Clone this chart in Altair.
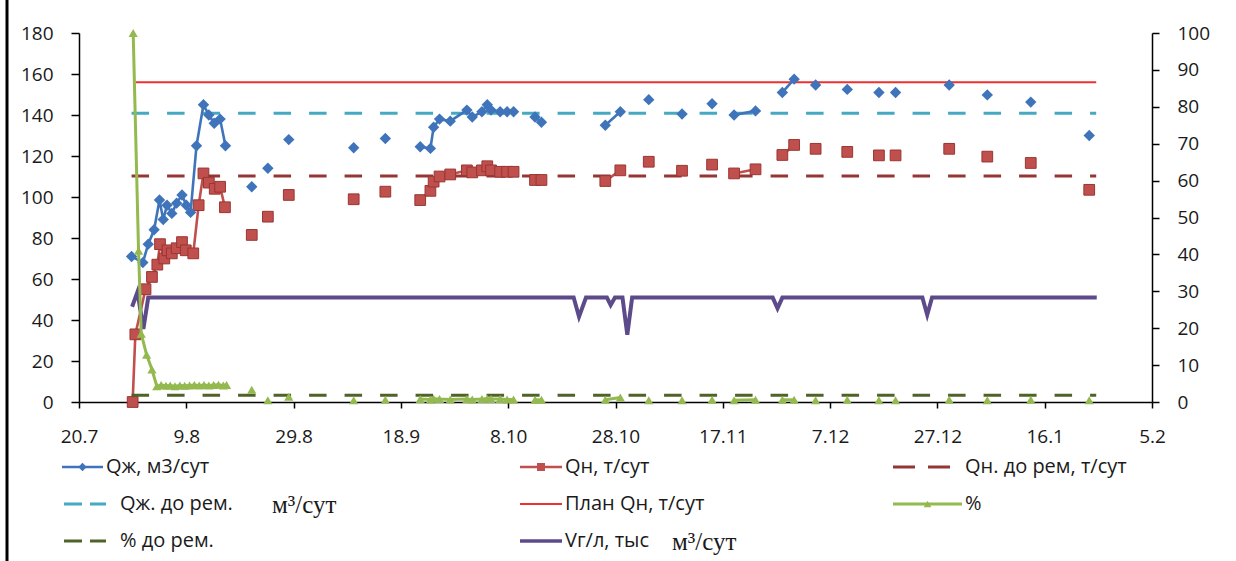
import json
import altair as alt
import pandas as pd

FONT = "Open Sans"
SERIF = "Liberation Serif"

# ---------------- axes ----------------
X_TICK_DAYS = [0, 20, 40, 60, 80, 100, 120, 140, 160, 180, 200]   # days since 20.7
X_TICK_LABELS = ["20.7", "9.8", "29.8", "18.9", "8.10", "28.10", "17.11", "7.12", "27.12", "16.1", "5.2"]
LEFT_TICKS = [0, 20, 40, 60, 80, 100, 120, 140, 160, 180]
RIGHT_TICKS = [0, 10, 20, 30, 40, 50, 60, 70, 80, 90, 100]

# ---------------- Qж, м3/сут (left axis) ----------------
ql_day = [9.8, 11.9, 12.9, 14.0, 15.0, 15.7, 16.4, 17.3, 18.2, 19.2, 20.0, 20.8, 21.9, 23.2, 24.2, 25.2, 26.3, 27.3,
          32.2, 35.2, 39.1, 51.2, 57.1,
          63.6, 65.5, 66.1, 67.2, 69.2, 72.3, 73.3, 75.1, 76.1, 76.8, 78.5, 79.8, 81.0,
          85.0, 86.2, 98.1, 100.9, 106.2, 112.4, 118.0, 122.1, 126.1, 131.1, 133.3, 137.3, 143.2,
          149.1, 152.2, 162.2, 169.3, 177.4, 188.3]
ql_val = [71, 68, 77, 84, 98.5, 89, 96, 92, 97, 101, 96, 92.5, 125, 145, 140, 136, 138, 125,
          105, 114, 128, 124, 128.5,
          124.5, 123.7, 134, 138, 137, 142.4, 139, 141.6, 145, 142.4, 141.6, 141.6, 141.6,
          139, 136.5, 135, 141.6, 147.5, 140.5, 145.5, 140, 142, 151, 157.5, 154.6, 152.5,
          151, 151, 154.6, 149.8, 146.3, 130]
ql_seg = [1] * 18 + [2, 3, 4, 5, 6] + [7] * 13 + [8, 8, 9, 9, 10, 11, 12, 13, 13, 14, 14, 15, 16,
                                                 17, 18, 19, 20, 21, 22]

# ---------------- Qн, т/сут (left axis) ----------------
qo_day = [10.0, 10.5, 12.4, 13.6, 14.6, 15.1, 15.9, 16.5, 17.3, 18.2, 19.2, 19.9, 21.3, 22.3, 23.2, 24.2, 25.3, 26.3, 27.2,
          32.2, 35.2, 39.1, 51.2, 57.1,
          63.6, 65.5, 66.1, 67.2, 69.2, 72.3, 73.3, 75.1, 76.1, 76.8, 78.5, 79.8, 81.0,
          85.0, 86.2, 98.1, 100.9, 106.2, 112.4, 118.0, 122.1, 126.1, 131.1, 133.3, 137.3, 143.2,
          149.1, 152.2, 162.2, 169.3, 177.4, 188.3]
qo_val = [0, 33, 55, 61, 67, 77, 70, 74, 72.5, 75, 78, 74, 72.5, 96, 111.5, 107, 104, 105, 95,
          81.5, 90.4, 101, 98.9, 102.6,
          98.5, 103, 107.5, 110, 111, 113, 112, 113, 115, 113, 112.3, 112.3, 112.3,
          108.3, 108.3, 107.8, 113, 117.2, 112.8, 115.8, 111.5, 113.5, 120.5, 125.4, 123.5, 122,
          120.3, 120.3, 123.5, 119.7, 116.6, 103.5]
qo_seg = [1] * 19 + [2, 3, 4, 5, 6] + [7] * 13 + [8, 8, 9, 9, 10, 11, 12, 13, 13, 14, 14, 15, 16,
                                                 17, 18, 19, 20, 21, 22]

# ---------------- % (right axis) ----------------
pc_day = [10.1, 11.1, 11.6, 12.6, 13.6, 14.5, 15.3, 16.2, 17.0, 17.9, 18.8, 19.7, 20.6, 21.5, 22.4, 23.3, 24.2, 25.1, 26.0, 26.9, 27.5,
          32.2, 35.2, 39.1, 51.2, 57.1,
          63.6, 65.5, 66.1, 67.2, 69.2, 72.3, 73.3, 75.1, 76.1, 76.8, 78.5, 79.8, 81.0,
          85.0, 86.2, 98.1, 100.9, 106.2, 112.4, 118.0, 122.1, 126.1, 131.1, 133.3, 137.3, 143.2,
          149.1, 152.2, 162.2, 169.3, 177.4, 188.3]
pc_val = [100, 41, 18.5, 12.8, 8.8, 4.3, 4.6, 4.4, 4.5, 4.3, 4.5, 4.4, 4.5, 4.6, 4.5, 4.6, 4.5, 4.6, 4.7, 4.5, 4.6,
          3.3, 0.5, 1.4, 0.5, 0.6,
          0.8, 0.7, 0.9, 0.8, 0.7, 0.8, 0.7, 0.8, 0.9, 0.8, 0.8, 0.7, 0.7,
          0.6, 0.6, 0.6, 1.2, 0.5, 0.5, 0.6, 0.5, 0.6, 0.6, 0.6, 0.5, 0.6,
          0.5, 0.5, 0.6, 0.5, 0.6, 0.5]
pc_seg = [1] * 21 + [2, 3, 4, 5, 6] + [7] * 13 + [8, 8, 9, 9, 10, 11, 12, 13, 13, 14, 14, 15, 16,
                                                 17, 18, 19, 20, 21, 22]

# ---------------- Vг/л, тыс м3/сут (right axis) ----------------
vg_day = [9.9, 10.9, 12.0, 12.9, 92.2, 93.2, 94.5, 98.4, 99.1, 99.9, 101.3, 102.2, 103.1,
          129.3, 130.2, 131.1, 157.2, 158.1, 159.0, 189.7]
vg_val = [25.8, 29.8, 19.8, 28.3, 28.3, 23.1, 28.3, 28.3, 26.3, 28.3, 28.3, 18.2, 28.3,
          28.3, 25.4, 28.3, 28.3, 23.6, 28.3, 28.3]

# ---------------- constant reference levels ----------------
plan_qn = 156.0          # План Qн, т/сут
qj_before = 140.8        # Qж. до рем.
qn_before = 110.3        # Qн. до рем
pct_before = 1.8         # % до рем. (right axis)
ref_start = [10.6, 9.8, 9.8, 9.8]
ref_end = [189.6, 189.6, 189.6, 189.6]

# ---------------- colours ----------------
C_BLUE = "#3f74bb"
C_RED = "#c0504d"
C_RED_EDGE = "#9a3532"
C_GREEN = "#93b94f"
C_PURPLE = "#5d4a8a"
C_TEAL = "#45a9c2"
C_DKRED = "#943634"
C_OLIVE = "#4f6228"
C_PLAN = "#ee3030"
DASH = [17.5, 18]
TXT = "#1a1a1a"

W, H = 1073, 369
PAD_L, PAD_T = 79, 33

ql = pd.DataFrame({"day": ql_day, "val": ql_val, "seg": ql_seg})
qo = pd.DataFrame({"day": qo_day, "val": qo_val, "seg": qo_seg})
pc = pd.DataFrame({"day": pc_day, "val": pc_val, "seg": pc_seg})
vg = pd.DataFrame({"day": vg_day, "val": vg_val})

label_expr = json.dumps(X_TICK_LABELS) + "[round(datum.value / 20)]"
X_AXIS = alt.Axis(values=X_TICK_DAYS, labelExpr=label_expr, title=None, grid=False,
                  tickSize=6, labelPadding=19, labelFontSize=19, labelFont=FONT,
                  domainColor="black", tickColor="black", domainWidth=1.5, tickWidth=1.5,
                  labelColor=TXT, labelFlush=False, labelOverlap=False)
X = alt.X("day:Q", scale=alt.Scale(domain=[0, 200], nice=False, zero=False), axis=X_AXIS)

YL_AXIS = alt.Axis(values=LEFT_TICKS, orient="left", title=None, grid=False, tickSize=8,
                   labelPadding=18, labelFontSize=19, labelFont=FONT, labelColor=TXT,
                   domainColor="black", tickColor="black", domainWidth=1.5, tickWidth=1.5)
YL = alt.Y("val:Q", scale=alt.Scale(domain=[0, 180], nice=False), axis=YL_AXIS)
YR_AXIS = alt.Axis(values=RIGHT_TICKS, orient="right", title=None, grid=False, tickSize=7,
                   labelPadding=18, labelFontSize=19, labelFont=FONT, labelColor=TXT,
                   domainColor="black", tickColor="black", domainWidth=1.5, tickWidth=1.5)
YR = alt.Y("val:Q", scale=alt.Scale(domain=[0, 100], nice=False), axis=YR_AXIS)

refL = pd.DataFrame({"day": ref_start[:3], "d1": ref_end[:3], "val": [plan_qn, qj_before, qn_before],
                     "key": ["plan", "qj", "qn"]})
refR = pd.DataFrame({"day": [ref_start[3]], "d1": [ref_end[3]], "val": [pct_before]})

plan_rule = alt.Chart(refL[refL.key == "plan"]).mark_rule(color=C_PLAN, strokeWidth=2).encode(
    x=X, x2="d1:Q", y=YL)
qj_rule = alt.Chart(refL[refL.key == "qj"]).mark_rule(color=C_TEAL, strokeWidth=3, strokeDash=DASH).encode(
    x=X, x2="d1:Q", y=YL)
qn_rule = alt.Chart(refL[refL.key == "qn"]).mark_rule(color=C_DKRED, strokeWidth=3, strokeDash=DASH).encode(
    x=X, x2="d1:Q", y=YL)

ql_line = alt.Chart(ql).mark_line(color=C_BLUE, strokeWidth=2.6).encode(
    x=X, y=YL, detail="seg:N", order="day:Q")
ql_pts = alt.Chart(ql).mark_point(shape="diamond", filled=True, size=130, color=C_BLUE, opacity=1).encode(
    x=X, y=YL)
qo_line = alt.Chart(qo).mark_line(color=C_RED, strokeWidth=2.6).encode(
    x=X, y=YL, detail="seg:N", order="day:Q")
qo_pts = alt.Chart(qo).mark_point(shape="square", filled=True, size=115, color=C_RED, opacity=1,
                                  stroke=C_RED_EDGE, strokeWidth=1).encode(x=X, y=YL)

left = alt.layer(plan_rule, qj_rule, qn_rule, qo_line, qo_pts, ql_line, ql_pts)

pct_rule = alt.Chart(refR).mark_rule(color=C_OLIVE, strokeWidth=3, strokeDash=DASH).encode(
    x=X, x2="d1:Q", y=YR)
vg_line = alt.Chart(vg).mark_line(color=C_PURPLE, strokeWidth=4).encode(
    x=X, y=YR, order="day:Q")
pc_line = alt.Chart(pc).mark_line(color=C_GREEN, strokeWidth=3).encode(
    x=X, y=YR, detail="seg:N", order="day:Q")
pc_pts = alt.Chart(pc).mark_point(shape="triangle-up", filled=True, size=85, color=C_GREEN, opacity=1).encode(
    x=X, y=YR)

right = alt.layer(pct_rule, vg_line, pc_line, pc_pts)

# ---------------- legend (3 columns x 3 rows, below the plot) ----------------
LEG_LABELS = ["Qж, м3/сут", "Qн, т/сут", "Qн. до рем, т/сут",
              "Qж. до рем.", "План Qн, т/сут", "%",
              "% до рем.", "Vг/л, тыс"]
LEG_SERIF = ["", "", "", "м³/сут", "", "", "", "м³/сут"]
LEG_SERIF_X = [0, 0, 0, 272, 0, 0, 0, 672]
LEG_MARK = ["diamond", "square", "", "", "", "triangle-up", "", ""]
LEG_MSIZE = [70, 64, 0, 0, 0, 60, 0, 0]
LEG_COLOR = [C_BLUE, C_RED, C_DKRED, C_TEAL, C_PLAN, C_GREEN, C_OLIVE, C_PURPLE]
LEG_WIDTH = [2.6, 2.6, 3, 3, 2, 3, 3, 3.5]
LEG_SYM_X0 = [62, 520, 893, 64, 520, 893, 64, 520]
LEG_SYM_X1 = [103, 562, 950, 106, 562, 962, 106, 562]
LEG_DASHES = [None, None, [22, 13], [18, 8], None, None, [18, 8], None]
LEG_TEXT_X = [106, 565, 965, 120, 565, 965, 120, 565]
LEG_ROW_Y = [467, 504, 541]

legend_layers = []
one = pd.DataFrame({"k": [0]})
for i, lab in enumerate(LEG_LABELS):
    row = i // 3
    y0 = LEG_ROW_Y[row] - PAD_T
    x0 = LEG_SYM_X0[i] - PAD_L
    x1 = LEG_SYM_X1[i] - PAD_L
    kw = dict(color=LEG_COLOR[i], strokeWidth=LEG_WIDTH[i])
    if LEG_DASHES[i]:
        kw["strokeDash"] = LEG_DASHES[i]
    legend_layers.append(alt.Chart(one).mark_rule(**kw).encode(
        x=alt.value(x0), x2=alt.value(x1), y=alt.value(y0)))
    if LEG_MARK[i]:
        legend_layers.append(alt.Chart(one).mark_point(shape=LEG_MARK[i], filled=True, size=LEG_MSIZE[i],
                                                       color=LEG_COLOR[i], opacity=1).encode(
            x=alt.value((x0 + x1) / 2), y=alt.value(y0)))
    legend_layers.append(alt.Chart(pd.DataFrame({"t": [lab]})).mark_text(
        align="left", baseline="middle", font=FONT, fontSize=20, color=TXT).encode(
        x=alt.value(LEG_TEXT_X[i] - PAD_L), y=alt.value(y0), text="t:N"))
    if LEG_SERIF[i]:
        legend_layers.append(alt.Chart(pd.DataFrame({"t": [LEG_SERIF[i]]})).mark_text(
            align="left", baseline="middle", font=SERIF, fontSize=25, color=TXT).encode(
            x=alt.value(LEG_SERIF_X[i] - PAD_L), y=alt.value(y0 + 1), text="t:N"))

border = alt.Chart(one).mark_rule(color="black", strokeWidth=3).encode(
    x=alt.value(7 - PAD_L), y=alt.value(-PAD_T), y2=alt.value(561 - PAD_T))

chart = alt.layer(left, right, *legend_layers, border).resolve_scale(y="independent").properties(
    width=W, height=H,
    autosize=alt.AutoSizeParams(type="none"),
    padding={"left": PAD_L, "top": PAD_T, "right": 1236 - PAD_L - W, "bottom": 561 - PAD_T - H},
    background="white",
).configure_view(strokeWidth=0)

chart.save("out.html", embed_options={"renderer": "svg", "actions": False})
